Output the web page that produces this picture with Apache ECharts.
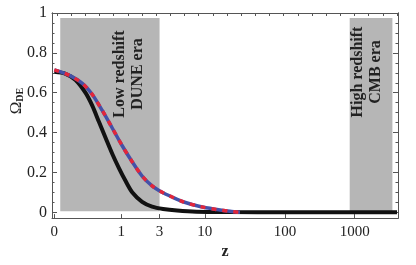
<!DOCTYPE html>
<html>
<head>
<meta charset="utf-8">
<script src="https://cdn.jsdelivr.net/npm/echarts@6/dist/echarts.min.js"></script>
<style>html,body{margin:0;padding:0;background:#fff}#c{width:416px;height:265px}</style>
</head>
<body>
<div id="c"></div>
<script>
// ---- data ----
var blackZ = [0, 0.046, 0.127, 0.241, 0.337, 0.451, 0.584, 0.742, 0.928, 1.141, 1.395, 1.859, 2.45, 3.3, 4.78, 8, 20, 100, 1000, 4700];
var blackV = [0.705, 0.695, 0.664, 0.599, 0.535, 0.454, 0.374, 0.294, 0.222, 0.158, 0.101, 0.053, 0.029, 0.017, 0.009, 0.003, 0.001, 0, 0, 0];
var dashZ = [0, 0.07, 0.2, 0.337, 0.515, 0.742, 1.03, 1.395, 1.859, 2.45, 3.21, 4.19, 5.6, 8.8, 13.9, 19.8, 26.3];
var dashV = [0.715, 0.688, 0.647, 0.591, 0.511, 0.423, 0.334, 0.254, 0.182, 0.133, 0.101, 0.077, 0.053, 0.029, 0.014, 0.005, 0.0];
var xTickZ = [0, 1, 3, 10, 100, 1000];
var xTickLabels = ['0', '1', '3', '10', '100', '1000'];
var yTicks = [0, 0.2, 0.4, 0.6, 0.8, 1];
var yTickLabels = ['0', '0.2', '0.4', '0.6', '0.8', '1'];
var bandZ = [[0.017, 3], [840, 3950]];
var bandY = [0.005, 0.975];
var bandTexts = ['Low redshift\nDUNE era', 'High redshift\nCMB era'];

// axis transform: position ~ (log10(1+z))^0.653
function T(z) { return Math.pow(Math.log10(1 + z), 0.653); }
var xTickT = xTickZ.map(T);
var yMinor = [];
for (var k = 0; k <= 20; k++) yMinor.push(+(k * 0.05).toFixed(2));
var topTicks = [];
for (var k2 = 0; k2 < 25; k2++) topTicks.push(0.018 + k2 * 0.0967);

var serif = '"Liberation Serif", "DejaVu Serif", serif';
var chart = echarts.init(document.getElementById('c'), null, {renderer: 'canvas'});

function xLab(v) {
  var best = 0, d = 1e9;
  for (var i = 0; i < xTickT.length; i++) { var dd = Math.abs(xTickT[i] - v); if (dd < d) { d = dd; best = i; } }
  return xTickLabels[best];
}
function yLab(v) {
  var best = 0, d = 1e9;
  for (var i = 0; i < yTicks.length; i++) { var dd = Math.abs(yTicks[i] - v); if (dd < d) { d = dd; best = i; } }
  return yTickLabels[best];
}

var XMIN = -0.016, XMAX = 2.345, YMIN = -0.029, YMAX = 1;
var axisCol = '#555';

function yAxisDef(pos, vals, len, labels) {
  return {
    type: 'value', position: pos, min: YMIN, max: YMAX,
    axisLine: {show: true, onZero: false, lineStyle: {color: axisCol, width: 1}},
    axisTick: {show: true, inside: true, length: len, customValues: vals, lineStyle: {color: axisCol, width: 1}},
    axisLabel: labels ? {show: true, customValues: yTicks, formatter: yLab, fontFamily: serif, fontSize: 16, color: '#222', margin: 5} : {show: false},
    splitLine: {show: false}
  };
}

var option = {
  animation: false,
  backgroundColor: '#fff',
  grid: {left: 52, right: 18, top: 13, bottom: 38, show: false},
  xAxis: [
    {
      type: 'value', position: 'bottom', min: XMIN, max: XMAX,
      axisLine: {show: true, onZero: false, lineStyle: {color: axisCol, width: 1}},
      axisTick: {show: true, inside: true, length: 4, customValues: xTickT, lineStyle: {color: axisCol}},
      axisLabel: {show: true, customValues: xTickT, formatter: xLab, fontFamily: serif, fontSize: 15, color: '#222', margin: 6},
      splitLine: {show: false},
      name: 'z', nameLocation: 'middle', nameGap: 25,
      nameTextStyle: {fontFamily: serif, fontSize: 16, fontWeight: 'bold', color: '#222'}
    },
    {
      type: 'value', position: 'top', min: XMIN, max: XMAX,
      axisLine: {show: true, onZero: false, lineStyle: {color: axisCol, width: 1}},
      axisTick: {show: true, inside: true, length: 3, customValues: topTicks, lineStyle: {color: axisCol}},
      axisLabel: {show: false}, splitLine: {show: false}
    }
  ],
  yAxis: [
    yAxisDef('left', yTicks, 5, true),
    yAxisDef('left', yMinor, 2.5, false),
    yAxisDef('right', yTicks, 5, false),
    yAxisDef('right', yMinor, 2.5, false)
  ],
  graphic: [
    {type: 'text', x: 129, y: 74, rotation: Math.PI / 2, z: 100,
     style: {text: bandTexts[0], font: 'bold 16px ' + serif, fill: '#222', align: 'center', verticalAlign: 'middle', lineHeight: 18}},
    {type: 'text', x: 367, y: 72, rotation: Math.PI / 2, z: 100,
     style: {text: bandTexts[1], font: 'bold 16px ' + serif, fill: '#222', align: 'center', verticalAlign: 'middle', lineHeight: 18}},
    {type: 'text', x: 17, y: 101, rotation: Math.PI / 2, z: 100,
     style: {text: '{o|Ω}{s|DE}', align: 'center', verticalAlign: 'middle',
       rich: {o: {fontFamily: serif, fontSize: 17, fill: '#222', color: '#222'},
              s: {fontFamily: serif, fontSize: 10, fontWeight: 'bold', fill: '#222', color: '#222', padding: [6, 0, 0, 0]}}}}
  ],
  series: [
    {
      type: 'line', data: [], z: 0, silent: true, xAxisIndex: 0, yAxisIndex: 0,
      markArea: {
        silent: true,
        itemStyle: {color: '#b6b6b6'},
        data: bandZ.map(function (b) { return [{coord: [T(b[0]), bandY[0]]}, {coord: [T(b[1]), bandY[1]]}]; })
      }
    },
    {
      type: 'line', xAxisIndex: 0, yAxisIndex: 0, showSymbol: false, smooth: 0.3, z: 3,
      data: blackZ.map(function (z, i) { return [T(z), blackV[i]]; }),
      lineStyle: {color: '#111', width: 4}
    },
    {
      type: 'line', xAxisIndex: 0, yAxisIndex: 0, showSymbol: false, smooth: 0.3, z: 4,
      data: dashZ.map(function (z, i) { return [T(z), dashV[i]]; }),
      lineStyle: {color: '#4451a8', width: 3.5}
    },
    {
      type: 'line', xAxisIndex: 0, yAxisIndex: 0, showSymbol: false, smooth: 0.3, z: 5,
      data: dashZ.map(function (z, i) { return [T(z), dashV[i]]; }),
      lineStyle: {color: '#e3263a', width: 3.5, type: [5, 6]}
    }
  ]
};
chart.setOption(option);
</script>
</body>
</html>
